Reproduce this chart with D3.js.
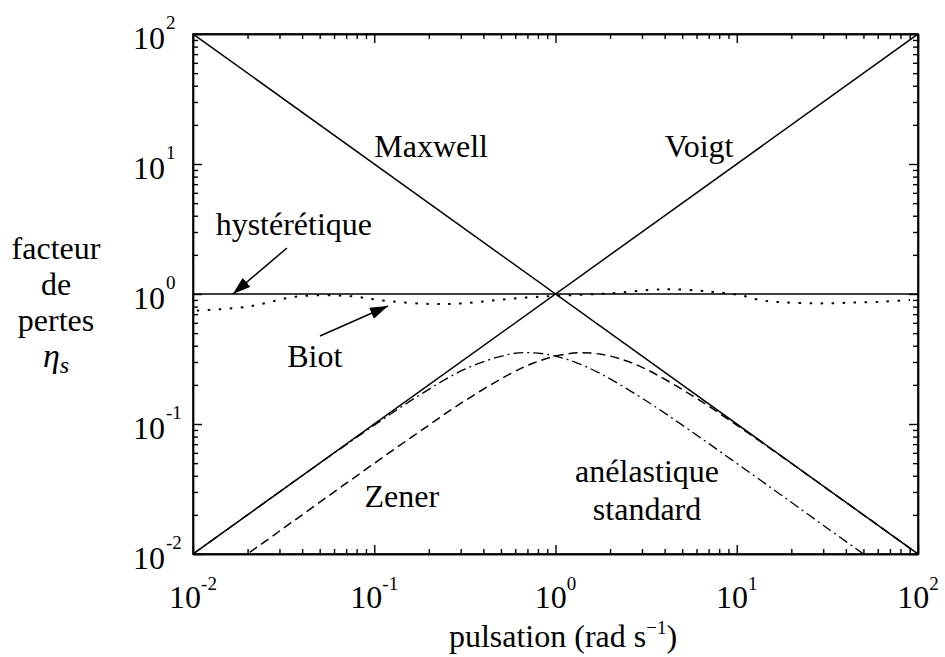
<!DOCTYPE html>
<html lang="fr">
  <head>
    <meta charset="utf-8" />
    <title>facteur de pertes</title>
    <script src="https://d3js.org/d3.v7.min.js" charset="utf-8"></script>
    <style>
      body { margin: 0; background: #fff; }
      .axis path, .axis line { stroke: #000; stroke-width: 1.4; }
    </style>
  </head>
  <body>
    <div id="svg-container"></div>
    <script>
      // pulsation (rad/s) and loss factor values
      const maxwellOmega = [0.01, 100];
      const maxwellEta = [100, 0.01];
      const voigtOmega = [0.01, 100];
      const voigtEta = [0.01, 100];
      const hystOmega = [0.01, 100];
      const hystEta = [1, 1];

      const zenerOmega = [0.0178, 0.0316, 0.0562, 0.1, 0.178, 0.316, 0.562, 0.75, 1, 1.33, 1.78, 2.37, 3.16, 5.62, 10, 17.8, 31.6, 56.2, 100];
      const zenerEta = [0.0089, 0.0158, 0.0281, 0.0498, 0.0875, 0.151, 0.243, 0.293, 0.333, 0.353, 0.344, 0.311, 0.264, 0.167, 0.098, 0.0559, 0.0316, 0.0178, 0.01];

      const anelOmega = [0.01, 0.0178, 0.0316, 0.0562, 0.1, 0.178, 0.316, 0.562, 0.75, 1, 1.33, 1.78, 3.16, 5.62, 10, 17.8, 31.6, 56.2];
      const anelEta = [0.01, 0.0178, 0.0316, 0.0559, 0.098, 0.167, 0.264, 0.345, 0.353, 0.333, 0.293, 0.243, 0.151, 0.0876, 0.0498, 0.0281, 0.0158, 0.0089];

      const biotOmega = [0.0105, 0.0199, 0.0375, 0.0708, 0.1175, 0.203, 0.309, 0.475, 0.723, 1.099, 2.0, 3.32, 4.45, 6.27, 7.78, 10.4, 13.4, 18.0, 27.7, 42.2, 64.1, 90.4];
      const biotEta = [0.745, 0.798, 0.955, 0.966, 0.883, 0.838, 0.847, 0.899, 0.944, 0.973, 1.012, 1.074, 1.086, 1.059, 1.030, 0.982, 0.899, 0.863, 0.847, 0.857, 0.873, 0.899];

      // axis ticks
      const majorTicks = [0.01, 0.1, 1, 10, 100];
      const tickExponents = ["-2", "-1", "0", "1", "2"];
      const minorTicks = [];
      [0.01, 0.1, 1, 10].forEach((p) => { for (let k = 2; k <= 9; k++) minorTicks.push(p * k); });

      const serif = "'Times New Roman', Times, Tinos, 'Liberation Serif', 'DejaVu Serif', 'Noto Serif', serif";
      const margin = { top: 34, right: 27, bottom: 103, left: 193 };
      const width = 945 - margin.left - margin.right;
      const height = 657 - margin.top - margin.bottom;

      const svg = d3.select("#svg-container").append("svg")
        .attr("width", 945).attr("height", 657)
        .attr("font-family", serif);
      const g = svg.append("g").attr("transform", `translate(${margin.left},${margin.top})`);

      const x = d3.scaleLog().domain([0.01, 100]).range([0, width]);
      const y = d3.scaleLog().domain([0.01, 100]).range([height, 0]);

      // ticks on all four sides, pointing inward
      function drawAxis(axisFn, transform) {
        g.append("g").attr("class", "axis").attr("transform", transform)
          .call(axisFn.tickValues(minorTicks).tickSize(-5).tickSizeOuter(0).tickFormat(""));
        g.append("g").attr("class", "axis").attr("transform", transform)
          .call(axisFn.tickValues(majorTicks).tickSize(-9).tickSizeOuter(0).tickFormat(""));
      }
      drawAxis(d3.axisBottom(x), `translate(0,${height})`);
      drawAxis(d3.axisTop(x), "translate(0,0)");
      drawAxis(d3.axisLeft(y), "translate(0,0)");
      drawAxis(d3.axisRight(y), `translate(${width},0)`);

      function txt(sel) {
        return sel.attr("font-family", serif).attr("fill", "#000");
      }

      // x tick labels
      majorTicks.forEach((v, i) => {
        const t = txt(g.append("text")).attr("x", x(v)).attr("y", height + 54)
          .attr("text-anchor", "middle").attr("font-size", 32).text("10");
        t.append("tspan").attr("dy", -18).attr("font-size", 19).text(tickExponents[i]);
      });
      // y tick labels
      majorTicks.forEach((v, i) => {
        txt(g.append("text")).attr("x", -28).attr("y", y(v) + 15)
          .attr("text-anchor", "end").attr("font-size", 32).text("10");
        txt(g.append("text")).attr("x", -27).attr("y", y(v) - 5)
          .attr("font-size", 19).text(tickExponents[i]);
      });

      // clip to plot
      svg.append("defs").append("clipPath").attr("id", "clip")
        .append("rect").attr("width", width).attr("height", height);

      const line = d3.line().x((d) => x(d[0])).y((d) => y(d[1])).curve(d3.curveCatmullRom.alpha(0.5));
      const zip = (a, b) => a.map((v, i) => [v, b[i]]);

      const series = [
        { pts: zip(maxwellOmega, maxwellEta), dash: null, w: 1.5 },
        { pts: zip(voigtOmega, voigtEta), dash: null, w: 1.5 },
        { pts: zip(hystOmega, hystEta), dash: null, w: 1.5 },
        { pts: zip(zenerOmega, zenerEta), dash: "9,5", w: 1.5 },
        { pts: zip(anelOmega, anelEta), dash: "10,4,2,4", w: 1.3 },
        { pts: zip(biotOmega, biotEta), dash: "2.5,8.5", w: 2 }
      ];
      const plot = g.append("g").attr("clip-path", "url(#clip)");
      plot.selectAll("path").data(series).join("path")
        .attr("d", (d) => line(d.pts))
        .attr("fill", "none").attr("stroke", "#000")
        .attr("stroke-width", (d) => d.w)
        .attr("stroke-dasharray", (d) => d.dash);

      // frame
      g.append("rect").attr("width", width).attr("height", height)
        .attr("fill", "none").attr("stroke", "#000").attr("stroke-width", 1.6);

      // labels placed in data coordinates
      const labels = [
        { t: "Maxwell", w: 0.206, e: 11.3 },
        { t: "Voigt", w: 6.2, e: 11.3 },
        { t: "hystérétique", w: 0.036, e: 2.84 },
        { t: "Biot", w: 0.047, e: 0.274 },
        { t: "Zener", w: 0.142, e: 0.023 },
        { t: "anélastique", w: 3.2, e: 0.0358 },
        { t: "standard", w: 3.2, e: 0.0183 }
      ];
      txt(g.selectAll("text.lab").data(labels).join("text").attr("class", "lab"))
        .attr("x", (d) => x(d.w)).attr("y", (d) => y(d.e))
        .attr("text-anchor", "middle").attr("font-size", 32)
        .text((d) => d.t);

      // arrows
      svg.select("defs").append("marker").attr("id", "head")
        .attr("markerUnits", "userSpaceOnUse")
        .attr("viewBox", "0 0 18 12").attr("refX", 18).attr("refY", 6)
        .attr("markerWidth", 18).attr("markerHeight", 12).attr("orient", "auto")
        .append("path").attr("d", "M0,0 L18,6 L0,12 Z").attr("fill", "#000");
      const arrows = [
        { from: [0.033, 2.26], to: [0.0166, 1.0] },
        { from: [0.0502, 0.475], to: [0.119, 0.809] }
      ];
      g.selectAll("line.arrow").data(arrows).join("line").attr("class", "arrow")
        .attr("x1", (d) => x(d.from[0])).attr("y1", (d) => y(d.from[1]))
        .attr("x2", (d) => x(d.to[0])).attr("y2", (d) => y(d.to[1]))
        .attr("stroke", "#000").attr("stroke-width", 1.5)
        .attr("marker-end", "url(#head)");

      // axis titles
      const xt = txt(svg.append("text")).attr("x", 563).attr("y", 647)
        .attr("text-anchor", "middle").attr("font-size", 32).text("pulsation (rad s");
      xt.append("tspan").attr("dy", -13).attr("font-size", 19).text("−1");
      xt.append("tspan").attr("dy", 13).text(")");

      const ytitle = ["facteur", "de", "pertes"];
      txt(svg.selectAll("text.yt").data(ytitle).join("text").attr("class", "yt"))
        .attr("x", 56).attr("y", (d, i) => 259 + i * 36)
        .attr("text-anchor", "middle").attr("font-size", 32).text((d) => d);
      const eta = txt(svg.append("text")).attr("x", 56).attr("y", 367)
        .attr("text-anchor", "middle").attr("font-size", 34).attr("font-style", "italic").text("η");
      eta.append("tspan").attr("dy", 6).attr("font-size", 24).text("s");
    </script>
  </body>
</html>
